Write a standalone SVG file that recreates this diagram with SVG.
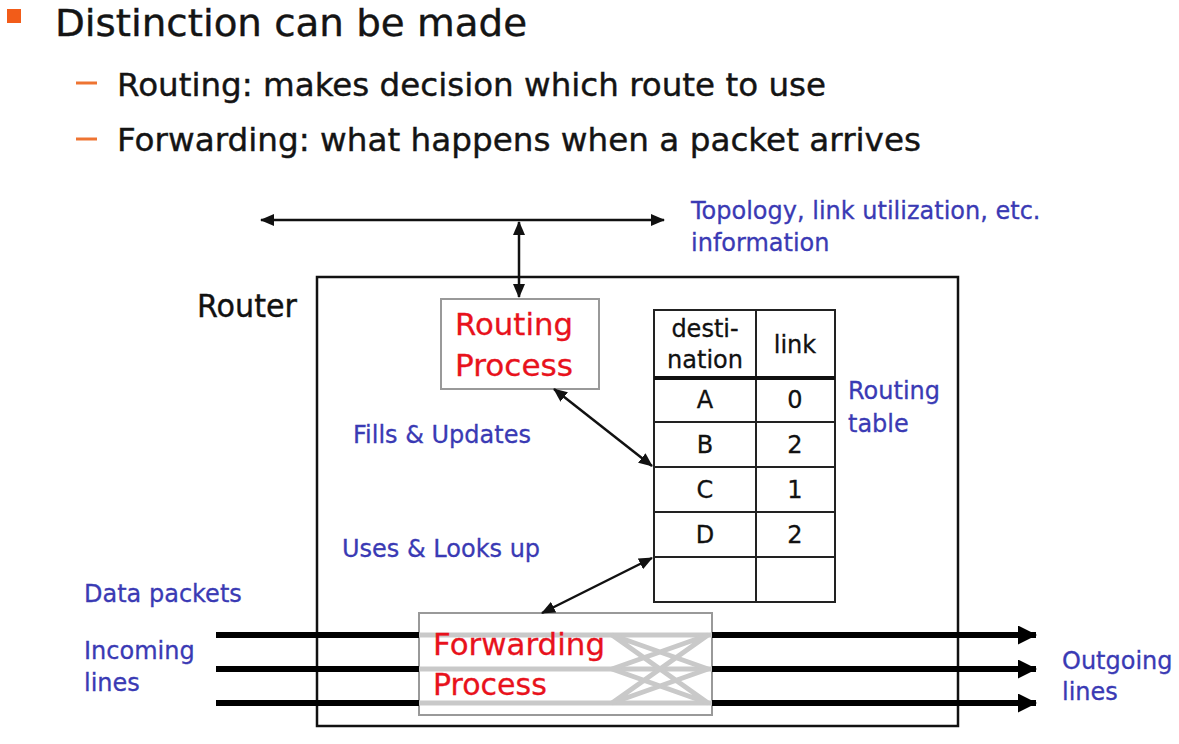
<svg xmlns="http://www.w3.org/2000/svg" width="1179" height="744" viewBox="0 0 1179 744">
<style>
.bullet{font-family:"DejaVu Sans","Liberation Sans",sans-serif;fill:#141414;stroke:#141414;stroke-width:0.4}
.lbl{font-family:"DejaVu Sans","Liberation Sans",sans-serif;font-size:24px;fill:#3a3ab4;stroke:#3a3ab4;stroke-width:0.3}
.red{font-family:"DejaVu Sans","Liberation Sans",sans-serif;font-size:30px;fill:#e8121c;stroke:#e8121c;stroke-width:0.3}
.tbl{font-family:"DejaVu Sans","Liberation Sans",sans-serif;font-size:24px;fill:#111;text-anchor:middle;stroke:#111;stroke-width:0.3}
.thin{stroke:#111;stroke-width:2.5;fill:none}
.thick{stroke:#000;stroke-width:6;fill:none}
.grid{stroke:#222;stroke-width:2;fill:none}
.gray{stroke:#c9c9c9;stroke-width:5;fill:none}
</style>
<defs>
<marker id="ah" markerUnits="userSpaceOnUse" markerWidth="14" markerHeight="12" refX="13" refY="6" orient="auto-start-reverse"><path d="M0,0 L14,6 L0,12 z" fill="#111"/></marker>
<marker id="big" markerUnits="userSpaceOnUse" markerWidth="19" markerHeight="19" refX="18" refY="9.5" orient="auto"><path d="M0,0 L19,9.5 L0,19 z" fill="#000"/></marker>
</defs>
<rect width="1179" height="744" fill="#fff"/>

<g id="bullets">
<rect x="7" y="9" width="14" height="14" fill="#f25c19"/>
<text class="bullet" x="55" y="36" font-size="38" textLength="472" lengthAdjust="spacingAndGlyphs">Distinction can be made</text>
<line x1="76" y1="83" x2="97" y2="83" stroke="#ee7432" stroke-width="3"/>
<text class="bullet" x="117" y="96" font-size="32" textLength="709" lengthAdjust="spacingAndGlyphs">Routing: makes decision which route to use</text>
<line x1="76" y1="139" x2="97" y2="139" stroke="#ee7432" stroke-width="3"/>
<text class="bullet" x="117" y="151" font-size="32" textLength="804" lengthAdjust="spacingAndGlyphs">Forwarding: what happens when a packet arrives</text>
</g>

<g id="router">
<rect x="317" y="277" width="641" height="449" fill="none" stroke="#111" stroke-width="2.5"/>
<text x="197" y="317" font-family="DejaVu Sans, Liberation Sans, sans-serif" font-size="32" fill="#111" stroke="#111" stroke-width="0.4" textLength="100" lengthAdjust="spacingAndGlyphs">Router</text>
</g>

<g id="routing-process">
<rect x="441" y="299" width="158" height="90" fill="#fff" stroke="#999" stroke-width="2"/>
<text class="red" x="455" y="335" textLength="118" lengthAdjust="spacingAndGlyphs">Routing</text>
<text class="red" x="455" y="376" textLength="118" lengthAdjust="spacingAndGlyphs">Process</text>
</g>

<g id="routing-table">
<rect x="654" y="310" width="181" height="292" class="grid"/>
<line x1="756" y1="310" x2="756" y2="602" class="grid"/>
<line x1="654" y1="378" x2="835" y2="378" stroke="#111" stroke-width="4"/>
<line x1="654" y1="422" x2="835" y2="422" class="grid"/>
<line x1="654" y1="467" x2="835" y2="467" class="grid"/>
<line x1="654" y1="512" x2="835" y2="512" class="grid"/>
<line x1="654" y1="557" x2="835" y2="557" class="grid"/>
<text class="tbl" x="705" y="337">desti-</text>
<text class="tbl" x="705" y="368">nation</text>
<text class="tbl" x="795" y="353">link</text>
<text class="tbl" x="705" y="408">A</text><text class="tbl" x="795" y="408">0</text>
<text class="tbl" x="705" y="453">B</text><text class="tbl" x="795" y="453">2</text>
<text class="tbl" x="705" y="498">C</text><text class="tbl" x="795" y="498">1</text>
<text class="tbl" x="705" y="543">D</text><text class="tbl" x="795" y="543">2</text>
</g>

<g id="forwarding-process">
<rect x="419" y="613" width="293" height="102" fill="#fff" stroke="#999" stroke-width="2"/>
<line x1="419" y1="635" x2="712" y2="635" class="gray"/>
<line x1="419" y1="669" x2="712" y2="669" class="gray"/>
<line x1="419" y1="703" x2="712" y2="703" class="gray"/>
<path class="gray" d="M612,635 L708,669 M612,635 L708,703 M612,669 L708,635 M612,669 L708,703 M612,703 L708,635 M612,703 L708,669"/>
<text class="red" x="433" y="655" font-size="32" textLength="172" lengthAdjust="spacingAndGlyphs">Forwarding</text>
<text class="red" x="433" y="695" font-size="32">Process</text>
</g>

<g id="labels">
<text class="lbl" x="691" y="219">Topology, link utilization, etc.</text>
<text class="lbl" x="691" y="251">information</text>
<text class="lbl" x="353" y="443">Fills &amp; Updates</text>
<text class="lbl" x="342" y="557">Uses &amp; Looks up</text>
<text class="lbl" x="848" y="399">Routing</text>
<text class="lbl" x="848" y="432">table</text>
<text class="lbl" x="84" y="602">Data packets</text>
<text class="lbl" x="84" y="659">Incoming</text>
<text class="lbl" x="84" y="691">lines</text>
<text class="lbl" x="1062" y="669">Outgoing</text>
<text class="lbl" x="1062" y="700">lines</text>
</g>

<g id="connectors">
<line class="thin" x1="261" y1="220" x2="664" y2="220" marker-start="url(#ah)" marker-end="url(#ah)"/>
<line class="thin" x1="519" y1="222" x2="519" y2="297" marker-start="url(#ah)" marker-end="url(#ah)"/>
<line class="thin" x1="554" y1="389" x2="652" y2="466" marker-start="url(#ah)" marker-end="url(#ah)"/>
<line class="thin" x1="542" y1="613" x2="652" y2="558" marker-start="url(#ah)" marker-end="url(#ah)"/>
<line class="thick" x1="216" y1="635" x2="419" y2="635"/>
<line class="thick" x1="216" y1="669" x2="419" y2="669"/>
<line class="thick" x1="216" y1="703" x2="419" y2="703"/>
<line class="thick" x1="712" y1="635" x2="1036" y2="635" marker-end="url(#big)"/>
<line class="thick" x1="712" y1="669" x2="1036" y2="669" marker-end="url(#big)"/>
<line class="thick" x1="712" y1="703" x2="1036" y2="703" marker-end="url(#big)"/>
</g>
</svg>
